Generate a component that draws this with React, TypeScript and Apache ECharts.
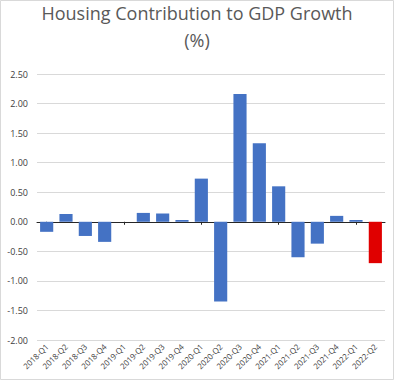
import React, { useEffect, useRef } from "react";
import * as echarts from "echarts";

const categories = [
  "2018-Q1", "2018-Q2", "2018-Q3", "2018-Q4",
  "2019-Q1", "2019-Q2", "2019-Q3", "2019-Q4",
  "2020-Q1", "2020-Q2", "2020-Q3", "2020-Q4",
  "2021-Q1", "2021-Q2", "2021-Q3", "2021-Q4",
  "2022-Q1", "2022-Q2",
];
const values = [
  -0.17, 0.13, -0.24, -0.34,
  0.0, 0.15, 0.14, 0.03,
  0.73, -1.35, 2.16, 1.33,
  0.6, -0.6, -0.37, 0.1,
  0.03, -0.7,
];
const highlightIndex = 17;
const titleText = "Housing Contribution to GDP Growth\n(%)";

export default function App() {
  const ref = useRef<HTMLDivElement>(null);
  useEffect(() => {
    document.body.style.margin = "0";
    const chart = echarts.init(ref.current!, null, { renderer: "svg" });
    const font = "Open Sans";
    chart.setOption({
      animation: false,
      backgroundColor: "#ffffff",
      title: {
        text: titleText,
        left: "center",
        top: -1,
        padding: 0,
        textStyle: {
          fontFamily: font,
          fontSize: 18,
          fontWeight: "normal",
          color: "#595959",
          lineHeight: 27,
        },
      },
      graphic: [
        {
          type: "rect",
          shape: { x: 0.5, y: 0.5, width: 393, height: 379 },
          style: { fill: "none", stroke: "#d9d9d9", lineWidth: 1 },
          silent: true,
        },
      ],
      grid: { left: 37, right: 9, top: 74, bottom: 40 },
      xAxis: [
        {
          type: "category",
          data: categories,
          axisLine: { onZero: true, lineStyle: { color: "#262626", width: 1 } },
          axisTick: { show: true, alignWithLabel: true, length: 3, lineStyle: { color: "#262626" } },
          axisLabel: { show: false },
        },
        {
          type: "category",
          data: categories,
          position: "bottom",
          axisLine: { show: false, onZero: false },
          axisTick: { show: false },
          axisLabel: {
            rotate: 45,
            interval: 0,
            margin: 5,
            fontFamily: font,
            fontSize: 8,
            color: "#404040",
          },
        },
      ],
      yAxis: {
        type: "value",
        min: -2,
        max: 2.5,
        interval: 0.5,
        axisLine: { show: false },
        axisTick: { show: false },
        axisLabel: {
          formatter: (v: number) => v.toFixed(2),
          fontFamily: font,
          fontSize: 9,
          color: "#404040",
          margin: 9,
        },
        splitLine: { lineStyle: { color: "#d9d9d9", width: 1 } },
      },
      series: [
        {
          type: "bar",
          xAxisIndex: 0,
          data: values.map((v, i) => ({
            value: v,
            itemStyle: { color: i === highlightIndex ? "#e00000" : "#4472c4" },
          })),
          barCategoryGap: "32%",
        },
      ],
    });
    return () => chart.dispose();
  }, []);
  return <div ref={ref} style={{ width: 394, height: 380 }} />;
}
